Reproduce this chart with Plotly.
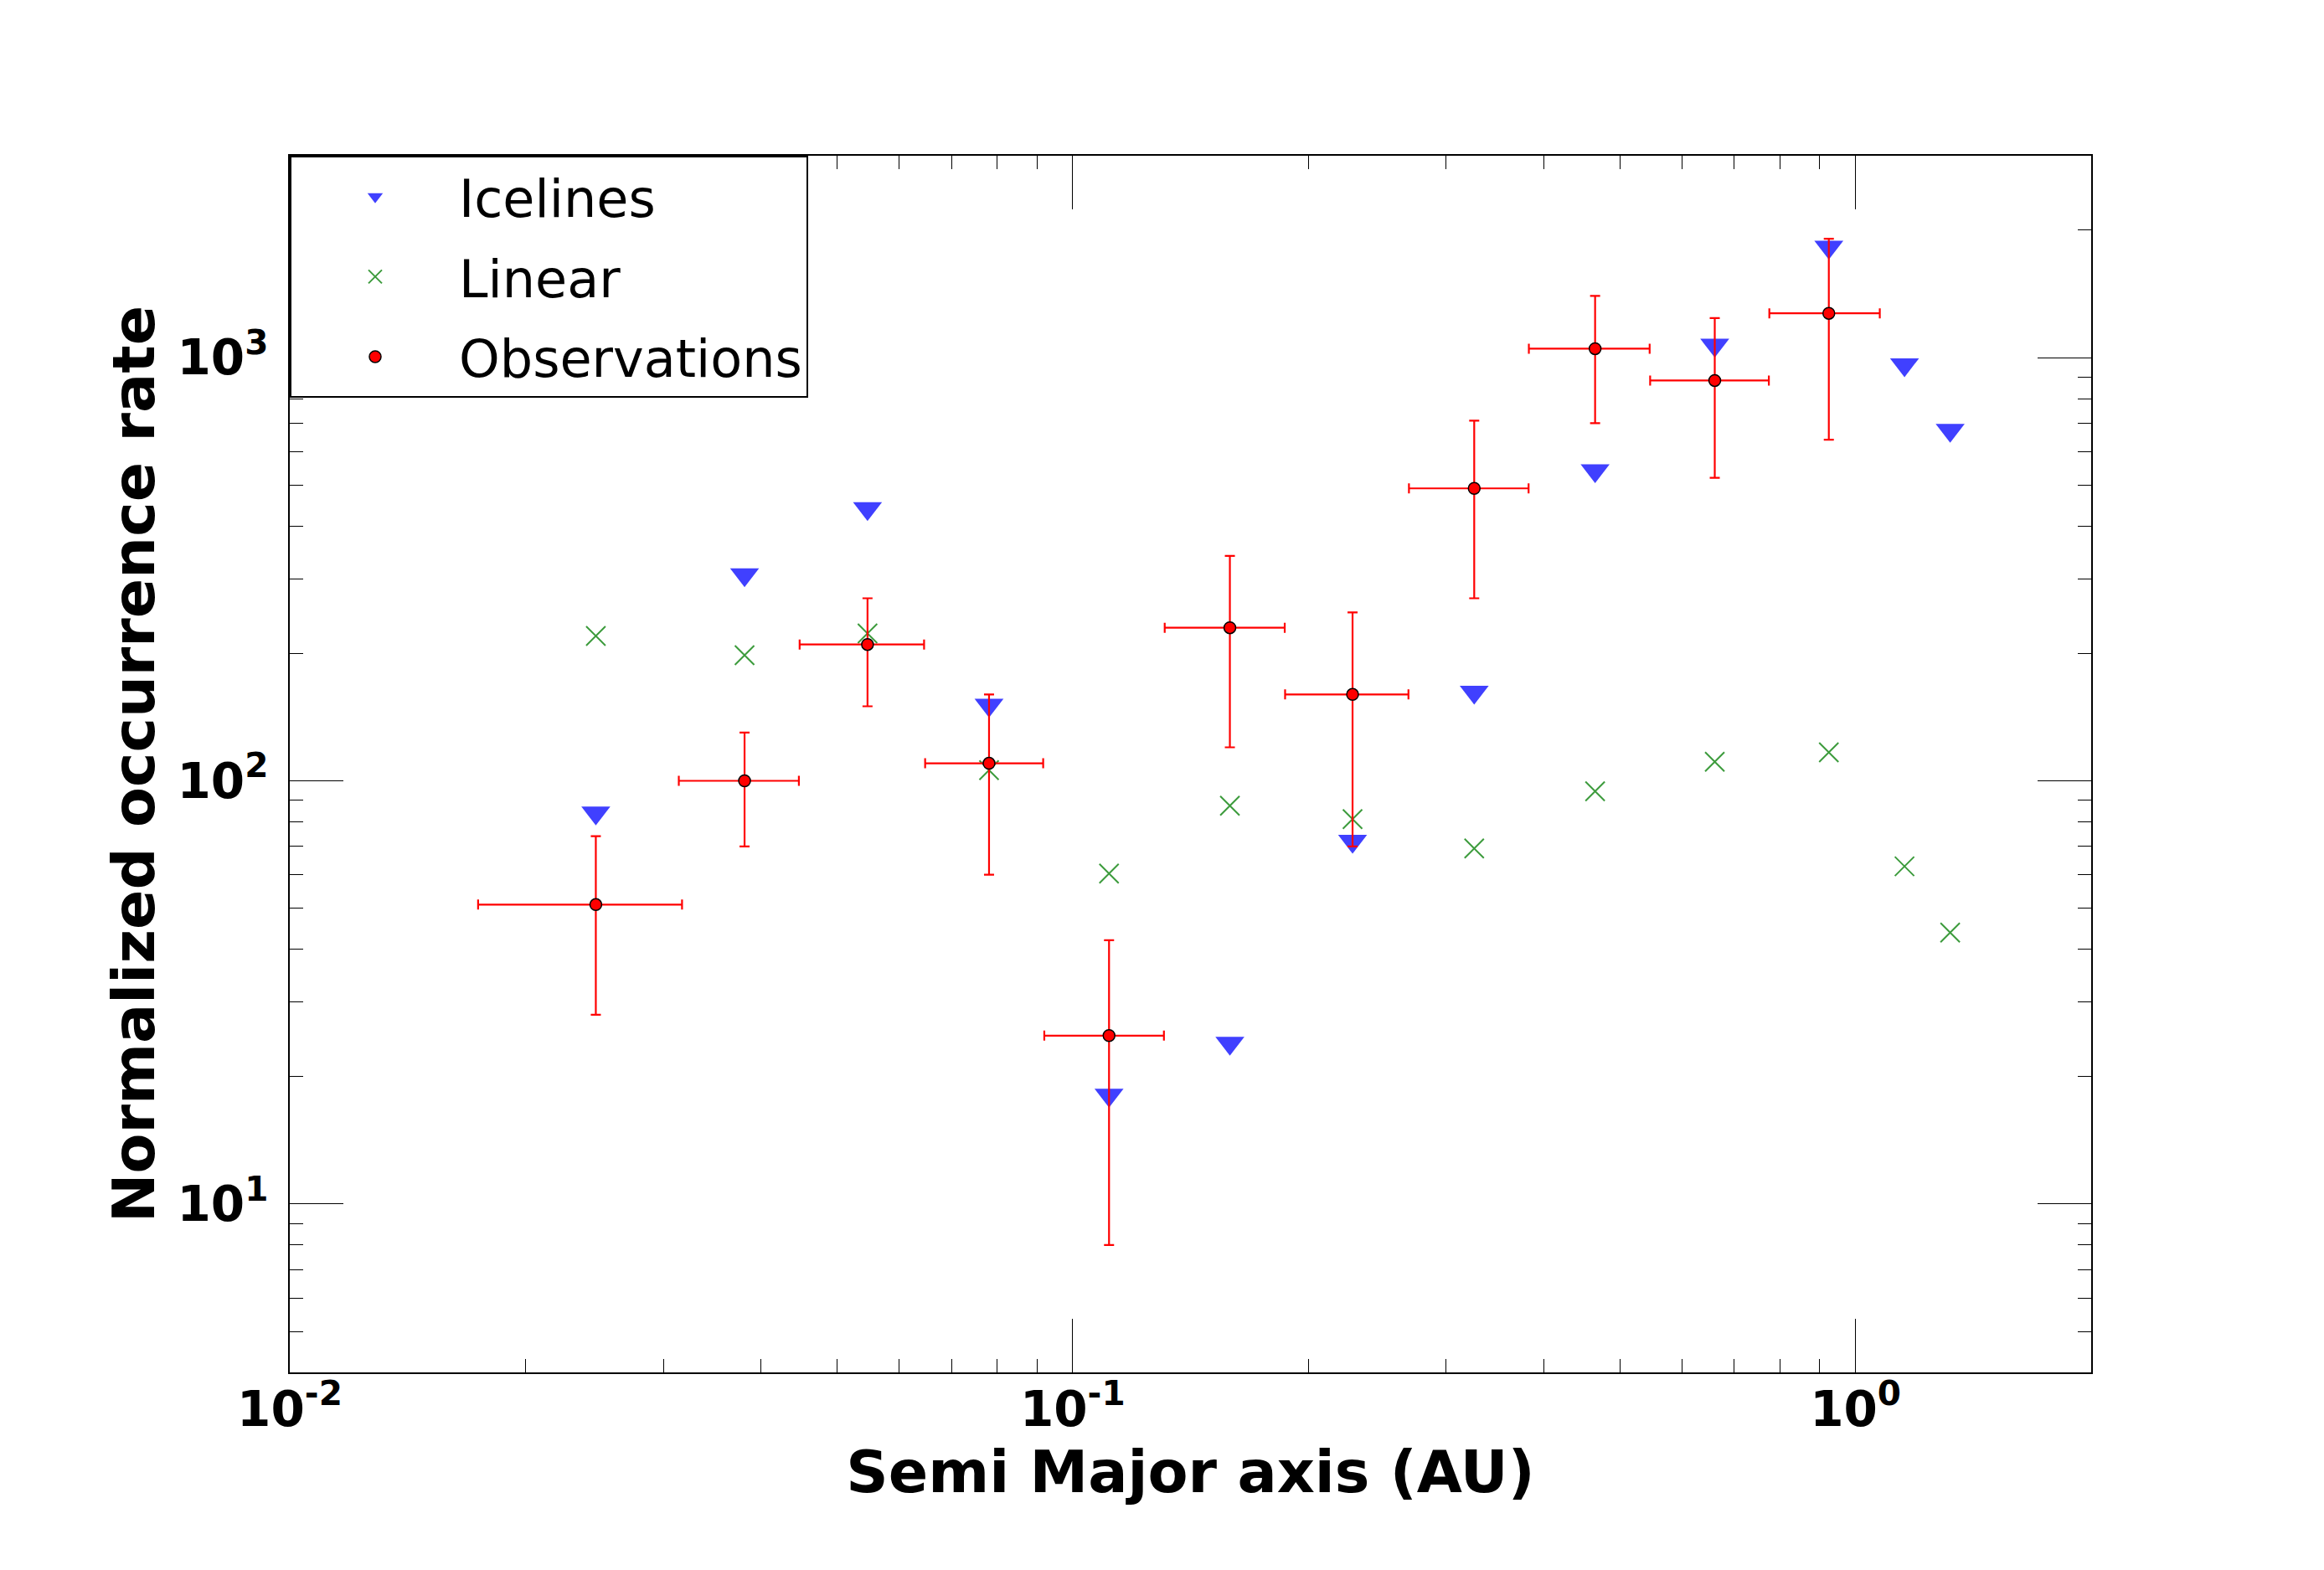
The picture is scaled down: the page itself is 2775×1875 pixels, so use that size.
import plotly.graph_objects as go

# ---- data ----
bin_x = [0.0246, 0.0381, 0.0547, 0.0782, 0.1113, 0.1588, 0.2278, 0.3258,
         0.4649, 0.661, 0.9245, 1.155, 1.321]
icelines_y = [84, 307, 440, 151, 18.1, 24, 72, 162, 541, 1071, 1825, 963, 674]
linear_y = [220, 198, 223, 106, 60.4, 87.3, 81.2, 69.2, 94.5, 110.9, 116.8, 62.8, 43.8]

obs_x = [0.0246, 0.0381, 0.0547, 0.0782, 0.1113, 0.1588, 0.2278, 0.3258,
         0.4649, 0.661, 0.9245]
obs_y = [51, 100, 210, 110, 25, 230, 160, 491, 1050, 883, 1273]
obs_y_hi = [74, 130, 270, 160, 42, 340, 250, 710, 1400, 1240, 1910]
obs_y_lo = [28, 70, 150, 60, 8, 120, 70, 270, 700, 520, 640]
obs_x_lo = [0.0174, 0.0314, 0.0448, 0.0648, 0.092, 0.1311, 0.1868, 0.2689,
            0.3826, 0.5466, 0.7761]
obs_x_hi = [0.0317, 0.0447, 0.0646, 0.0917, 0.1308, 0.1866, 0.2685, 0.3823,
            0.5458, 0.775, 1.074]

x_tickvals = [0.01, 0.1, 1]
x_ticktext = ["10<sup>-2</sup>", "10<sup>-1</sup>", "10<sup>0</sup>"]
y_tickvals = [10, 100, 1000]
y_ticktext = ["10<sup>1</sup>", "10<sup>2</sup>", "10<sup>3</sup>"]
x_minor = [m * d for d in (0.01, 0.1, 1) for m in range(2, 10) if m * d <= 2.0]
y_minor = [m * d for d in (1, 10, 100, 1000) for m in range(2, 10) if 4 <= m * d <= 3000]

# ---- figure ----
fig = go.Figure()

fig.add_trace(go.Scatter(
    x=bin_x, y=icelines_y, mode="markers", name="Icelines",
    legendgroup="a",
    marker=dict(symbol="triangle-down", size=30, color="rgba(64,64,255,1)",
                line=dict(width=0)),
))
fig.add_trace(go.Scatter(
    x=bin_x, y=linear_y, mode="markers", name="Linear",
    legendgroup="b",
    marker=dict(symbol="x-thin", size=23, color="rgba(60,155,60,1)",
                line=dict(width=2, color="rgba(60,155,60,1)")),
))
fig.add_trace(go.Scatter(
    x=obs_x, y=obs_y, mode="markers", name="Observations",
    legendgroup="c",
    marker=dict(symbol="circle", size=14, color="red",
                line=dict(width=1.5, color="black")),
    error_y=dict(type="data", symmetric=False,
                 array=[h - v for h, v in zip(obs_y_hi, obs_y)],
                 arrayminus=[v - l for v, l in zip(obs_y, obs_y_lo)],
                 color="red", thickness=2.2, width=6),
    error_x=dict(type="data", symmetric=False,
                 array=[h - v for h, v in zip(obs_x_hi, obs_x)],
                 arrayminus=[v - l for v, l in zip(obs_x, obs_x_lo)],
                 color="red", thickness=2.2, width=6),
))

axis_common = dict(
    type="log", showgrid=False, zeroline=False,
    showline=True, linecolor="black", linewidth=2, mirror="ticks",
    ticks="inside", ticklen=64, tickwidth=1.2, tickcolor="black",
    tickfont=dict(family="DejaVu Sans", size=58, color="black", weight="bold"),
    tickmode="array",
)

fig.update_xaxes(
    **axis_common,
    range=[-2, 0.30103],
    tickvals=x_tickvals, ticktext=x_ticktext,
    ticklabelstandoff=-8,
    minor=dict(tickvals=x_minor, ticks="inside", ticklen=16, tickwidth=1,
               tickcolor="black"),
    title=dict(text="Semi Major axis (AU)", standoff=0,
               font=dict(family="DejaVu Sans", size=70, color="black", weight="bold")),
)
fig.update_yaxes(
    **axis_common,
    range=[0.60206, 3.47712],
    tickvals=y_tickvals, ticktext=y_ticktext,
    ticklabelstandoff=12,
    minor=dict(tickvals=y_minor, ticks="inside", ticklen=16, tickwidth=1,
               tickcolor="black"),
    title=dict(text="Normalized occurrence rate", standoff=4,
               font=dict(family="DejaVu Sans", size=70, color="black", weight="bold")),
)

fig.update_layout(
    width=2775, height=1875,
    margin=dict(l=346, r=278, t=186, b=236, autoexpand=False),
    paper_bgcolor="white", plot_bgcolor="white",
    showlegend=True,
    legend=dict(x=0, y=1, xanchor="left", yanchor="top",
                bgcolor="white", bordercolor="black", borderwidth=2,
                font=dict(family="DejaVu Sans", size=62, color="black"),
                itemwidth=190, tracegroupgap=12, traceorder="grouped"),
    font=dict(family="DejaVu Sans", color="black"),
)

fig.write_html("out.html")
